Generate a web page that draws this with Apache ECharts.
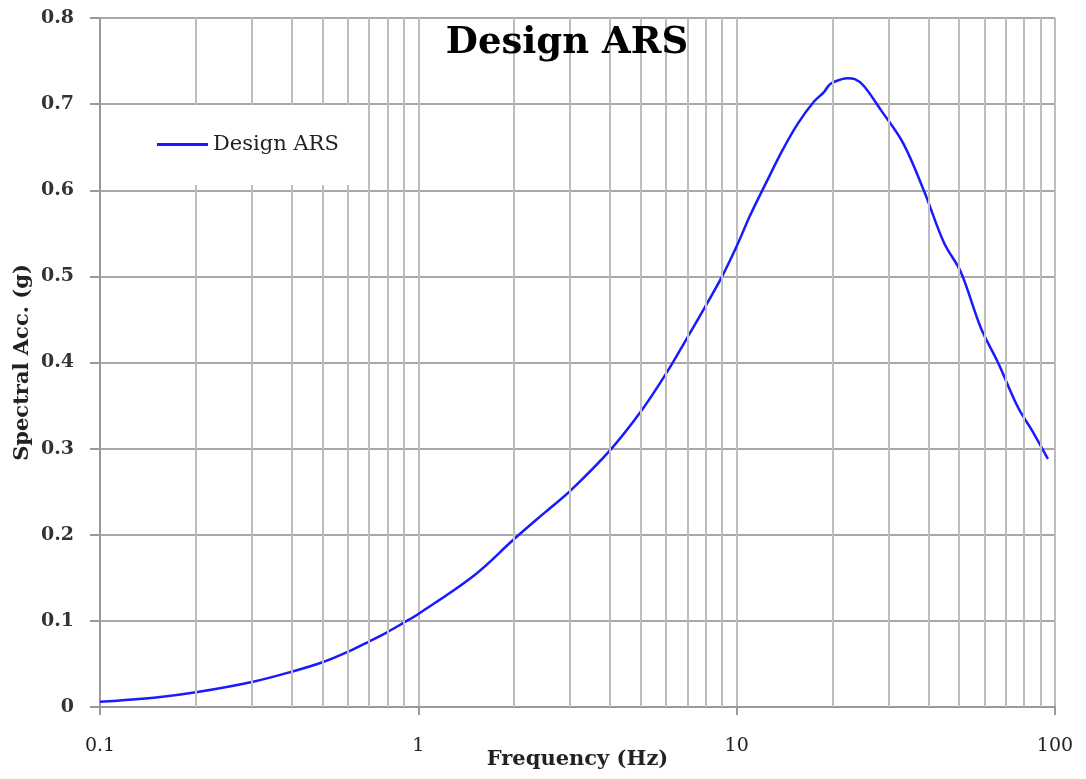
<!DOCTYPE html>
<html>
<head>
<meta charset="utf-8">
<script src="https://cdn.jsdelivr.net/npm/echarts@6/dist/echarts.min.js"></script>
<style>
html,body{margin:0;padding:0;background:#fff;}
#chart{width:1086px;height:779px;}
</style>
</head>
<body>
<div id="chart"></div>
<script>
// Data
const freqHz = [0.1, 0.15, 0.2, 0.3, 0.4, 0.5, 0.6, 0.7, 0.8, 0.9, 1, 1.5, 2, 2.5, 3, 4, 5, 6, 7, 8, 9, 10, 11, 12.5, 14, 15.6, 17.5, 18.8, 19.4, 20, 22.3, 23.5, 25.1, 28.4, 33.3, 38.7, 44.8, 50.6, 58.5, 66.2, 76.5, 85, 95];
const spectralAcc = [0.006, 0.011, 0.017, 0.029, 0.041, 0.052, 0.064, 0.076, 0.087, 0.098, 0.108, 0.153, 0.195, 0.226, 0.251, 0.298, 0.343, 0.387, 0.429, 0.466, 0.500, 0.535, 0.570, 0.612, 0.648, 0.678, 0.703, 0.714, 0.721, 0.725, 0.730, 0.729, 0.721, 0.693, 0.655, 0.600, 0.539, 0.505, 0.440, 0.400, 0.348, 0.320, 0.288];
const xTickLabels = ['0.1', '1', '10', '100'];
const yTickLabels = ['0', '0.1', '0.2', '0.3', '0.4', '0.5', '0.6', '0.7', '0.8'];
const minorFreqs = [0.2,0.3,0.4,0.5,0.6,0.7,0.8,0.9,2,3,4,5,6,7,8,9,20,30,40,50,60,70,80,90];
const seriesName = 'Design ARS';
const titleText = 'Design ARS';
const xName = 'Frequency (Hz)';
const yName = 'Spectral Acc. (g)';

const FONT = 'DejaVu Serif';
const chart = echarts.init(document.getElementById('chart'));
const data = freqHz.map((f, i) => [f, spectralAcc[i]]);

chart.setOption({
  backgroundColor: '#fff',
  animation: false,
  title: {
    text: titleText,
    left: 562, top: 20, textAlign: 'center',
    textStyle: { fontFamily: FONT, fontWeight: 'bold', fontSize: 37, color: '#000' }
  },
  graphic: [{
    type: 'rect', left: 130, top: 105, z: 50,
    shape: { width: 230, height: 80 },
    style: { fill: '#fff' }
  }],
  legend: {
    left: 157, top: 134, z: 60,
    padding: 0,
    icon: 'rect',
    itemWidth: 51, itemHeight: 3,
    itemGap: 6,
    textStyle: { fontFamily: FONT, fontSize: 21, color: '#222' },
    data: [seriesName]
  },
  grid: { left: 100, right: 31, top: 18, bottom: 72, outerBoundsMode: 'none', containLabel: false },
  xAxis: {
    type: 'log', logBase: 10, min: 0.1, max: 100,
    name: xName, nameLocation: 'middle', nameGap: 42, nameMoveOverlap: false,
    nameTextStyle: { fontFamily: FONT, fontWeight: 'bold', fontSize: 21, color: '#222' },
    axisLine: { show: true, lineStyle: { color: '#999', width: 2 } },
    axisTick: { show: true, length: 8, lineStyle: { color: '#999', width: 2 } },
    axisLabel: {
      fontFamily: FONT, fontSize: 19, color: '#222', margin: 30,
      formatter: v => { const i = Math.round(Math.log10(v) + 1); return xTickLabels[i] !== undefined ? xTickLabels[i] : ''; }
    },
    splitLine: { show: true, lineStyle: { color: '#bdbdbd', width: 2 } }
  },
  yAxis: {
    type: 'value', min: 0, max: 0.8, interval: 0.1,
    name: yName, nameLocation: 'middle', nameGap: 67, nameMoveOverlap: false,
    nameTextStyle: { fontFamily: FONT, fontWeight: 'bold', fontSize: 21, color: '#222' },
    axisLine: { show: true, lineStyle: { color: '#999', width: 2 } },
    axisTick: { show: true, length: 10, lineStyle: { color: '#999', width: 2 } },
    axisLabel: {
      fontFamily: FONT, fontWeight: 'bold', fontSize: 19, color: '#333', margin: 26,
      formatter: v => yTickLabels[Math.round(v * 10)]
    },
    splitLine: { show: true, lineStyle: { color: '#a8a8a8', width: 2 } }
  },
  series: [{
    name: seriesName,
    type: 'line',
    data: data,
    smooth: 0.35,
    showSymbol: false,
    lineStyle: { color: '#1a1aff', width: 2.5 },
    itemStyle: { color: '#1a1aff' },
    z: 3,
    markLine: {
      silent: true, symbol: 'none', animation: false,
      label: { show: false },
      lineStyle: { color: '#bdbdbd', width: 2, type: 'solid' },
      data: minorFreqs.map(f => ({ xAxis: f }))
    }
  }]
});
</script>
</body>
</html>
